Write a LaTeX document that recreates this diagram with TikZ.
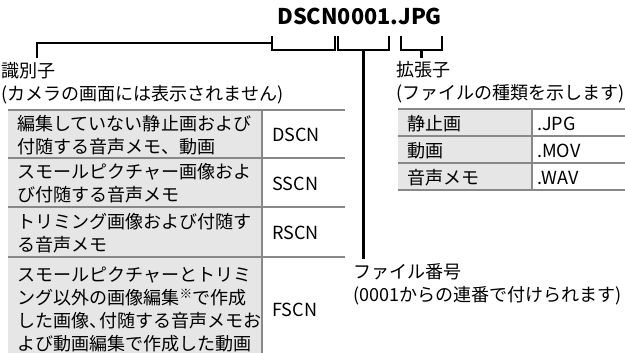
\documentclass[tikz,border=0pt]{standalone}
\usepackage{fontspec}
\setmainfont{Noto Sans CJK JP}
\usetikzlibrary{positioning}
\definecolor{Ink}{HTML}{000000}
\definecolor{Rule}{HTML}{888888}
\definecolor{Cell}{HTML}{E6E6E6}

\begin{document}
\begin{tikzpicture}[x=0.03cm,y=-0.03cm,
    lab/.style={anchor=west,inner sep=0pt,text=Ink,align=left,
      font=\fontsize{15.4}{19.5}\selectfont},
    cell/.style={lab},
    brk/.style={line width=1.8pt,Ink},
    rule/.style={line width=2.5pt,Rule}]
  \useasboundingbox (0,0) rectangle (625,352);

  % file name and its three parts
  \node[font=\fontsize{18.5}{20}\selectfont\bfseries,text=Ink] (title) at (359.5,16) {DSCN0001.JPG};
  \draw[brk] (272,36) -- (272,50) -- (335,50) -- (335,36);
  \draw[brk] (338,36) -- (338,50) -- (389,50) -- (389,36);
  \draw[brk] (401,36) -- (401,50) -- (442,50) -- (442,36);
  \coordinate (idbr) at (272,43);
  \coordinate (numbr) at (363.5,50);
  \coordinate (extbr) at (421.5,50);

  % labels
  \node[lab] (idlabel) at (1,83) {識別子\\(カメラの画面には表示されません)};
  \node[lab] (numlabel) at (353,284) {ファイル番号\\(0001からの連番で付けられます)};
  \node[lab] (extlabel) at (396,82) {拡張子\\(ファイルの種類を示します)};
  \coordinate (idend) at (37,58);
  \coordinate (numend) at (363.5,259);
  \coordinate (extend) at (421.5,58);
  \draw[brk] (idbr) -| (idend);
  \draw[brk] (numbr) -- (numend);
  \draw[brk] (extbr) -- (extend);

  % identifier table
  \foreach \i/\top/\bot/\txt/\code in {
    1/110/158/{編集していない静止画および\\付随する音声メモ、動画}/DSCN,
    2/158/207/{スモールピクチャー画像およ\\び付随する音声メモ}/SSCN,
    3/207/257/{トリミング画像および付随す\\る音声メモ}/RSCN,
    4/257/360/{スモールピクチャーとトリミ\\ング以外の画像編集\textsuperscript{※}で作成\\した画像、\kern-.45em付随する音声メモお\\よび動画編集で作成した動画}/FSCN}{
    \fill[Cell] (8,\top) rectangle (262,\bot);
    \node[cell] (idtxt\i) at (17,{(\top+\bot)/2+1}) {\txt};
    \node[cell] (idcode\i) at (272,{(\top+\bot)/2+1}) {\code};
    \draw[rule] (8,\top) -- (345,\top);
  }
  \draw[rule] (262,110) -- (262,360);

  % extension table
  \foreach \i/\top/\bot/\txt/\code in {
    1/109/136/静止画/.JPG,
    2/136/163/動画/.MOV,
    3/163/190/音声メモ/.WAV}{
    \fill[Cell] (398,\top) rectangle (532,\bot);
    \node[cell] (exttxt\i) at (407,{(\top+\bot)/2+1}) {\txt};
    \node[cell] (extcode\i) at (537,{(\top+\bot)/2+1}) {\code};
    \draw[rule] (398,\top) -- (625,\top);
  }
  \draw[rule] (398,190) -- (625,190);
  \draw[rule] (532,109) -- (532,190);
\end{tikzpicture}
\end{document}
